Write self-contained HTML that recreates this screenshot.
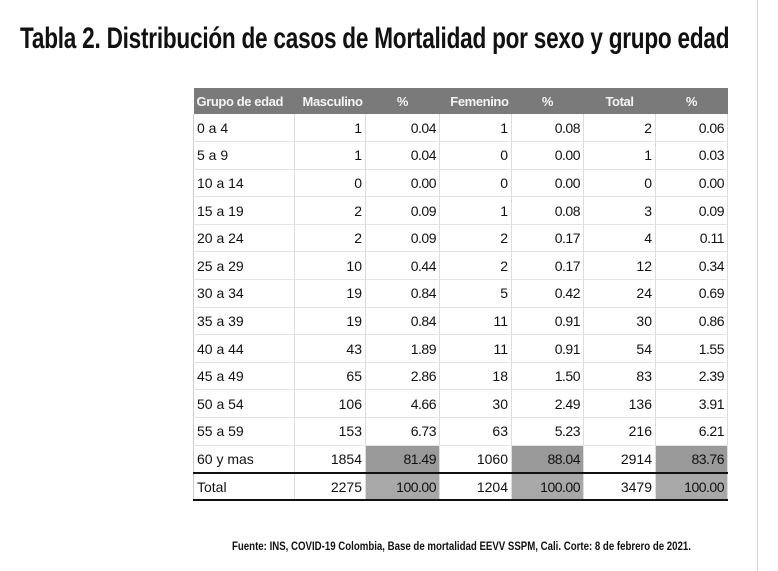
<!DOCTYPE html>
<html><head><meta charset="utf-8"><style>
html,body{margin:0;padding:0;background:#fff;}
body{width:778px;height:571px;position:relative;overflow:hidden;font-family:"Liberation Sans",sans-serif;}
#title{position:absolute;left:20px;top:22px;font-size:30px;font-weight:bold;color:#111;white-space:nowrap;transform:scaleX(0.752);transform-origin:0 0;letter-spacing:-0.3px;}
table{position:absolute;left:193px;top:88px;border-collapse:collapse;table-layout:fixed;font-size:14px;color:#111;}
td,th{padding:0 3px;height:27.6px;box-sizing:border-box;border-right:1px solid #ddd;border-bottom:1px solid #e4e4e4;text-align:right;white-space:nowrap;overflow:hidden;}
td:first-child{text-align:left;border-left:1px solid #ccc;}
th{background:#7a7a7a;color:#f4f4f4;font-weight:bold;height:26px;border:none;font-size:13px;letter-spacing:-0.4px;}
th:first-child{text-align:left;}
.n{letter-spacing:-0.5px;}
tr.big td.p{background:#9a9a9a;}
tr.tot td{border-top:2px solid #111;border-bottom:2px solid #111;}
tr.tot td.p{background:#a8a8a8;}
#foot{position:absolute;left:232px;top:539px;font-size:12px;font-weight:bold;color:#111;white-space:nowrap;transform:scaleX(0.805);transform-origin:0 0;}
#vline{position:absolute;left:757px;top:0;width:1px;height:571px;background:#e8c8e8;}
</style></head><body>
<div id="title">Tabla 2. Distribución de casos de Mortalidad por sexo y grupo edad</div>
<table>
<colgroup><col style="width:101px"><col style="width:71px"><col style="width:74px"><col style="width:72px"><col style="width:72px"><col style="width:72px"><col style="width:72px"></colgroup>
<tr><th>Grupo de edad</th><th>Masculino</th><th style="text-align:center">%</th><th>Femenino</th><th style="text-align:center">%</th><th style="text-align:center">Total</th><th style="text-align:center">%</th></tr>
<tr><td>0 a 4</td><td>1</td><td class="n">0.04</td><td>1</td><td class="n">0.08</td><td>2</td><td class="n">0.06</td></tr>
<tr><td>5 a 9</td><td>1</td><td class="n">0.04</td><td>0</td><td class="n">0.00</td><td>1</td><td class="n">0.03</td></tr>
<tr><td>10 a 14</td><td>0</td><td class="n">0.00</td><td>0</td><td class="n">0.00</td><td>0</td><td class="n">0.00</td></tr>
<tr><td>15 a 19</td><td>2</td><td class="n">0.09</td><td>1</td><td class="n">0.08</td><td>3</td><td class="n">0.09</td></tr>
<tr><td>20 a 24</td><td>2</td><td class="n">0.09</td><td>2</td><td class="n">0.17</td><td>4</td><td class="n">0.11</td></tr>
<tr><td>25 a 29</td><td>10</td><td class="n">0.44</td><td>2</td><td class="n">0.17</td><td>12</td><td class="n">0.34</td></tr>
<tr><td>30 a 34</td><td>19</td><td class="n">0.84</td><td>5</td><td class="n">0.42</td><td>24</td><td class="n">0.69</td></tr>
<tr><td>35 a 39</td><td>19</td><td class="n">0.84</td><td>11</td><td class="n">0.91</td><td>30</td><td class="n">0.86</td></tr>
<tr><td>40 a 44</td><td>43</td><td class="n">1.89</td><td>11</td><td class="n">0.91</td><td>54</td><td class="n">1.55</td></tr>
<tr><td>45 a 49</td><td>65</td><td class="n">2.86</td><td>18</td><td class="n">1.50</td><td>83</td><td class="n">2.39</td></tr>
<tr><td>50 a 54</td><td>106</td><td class="n">4.66</td><td>30</td><td class="n">2.49</td><td>136</td><td class="n">3.91</td></tr>
<tr><td>55 a 59</td><td>153</td><td class="n">6.73</td><td>63</td><td class="n">5.23</td><td>216</td><td class="n">6.21</td></tr>
<tr class="big"><td>60 y mas</td><td>1854</td><td class="n p">81.49</td><td>1060</td><td class="n p">88.04</td><td>2914</td><td class="n p">83.76</td></tr>
<tr class="tot"><td>Total</td><td>2275</td><td class="n p">100.00</td><td>1204</td><td class="n p">100.00</td><td>3479</td><td class="n p">100.00</td></tr>
</table>
<div id="foot">Fuente: INS, COVID-19 Colombia, Base de mortalidad EEVV SSPM, Cali. Corte: 8 de febrero de 2021.</div>
<div id="vline"></div>
</body></html>
